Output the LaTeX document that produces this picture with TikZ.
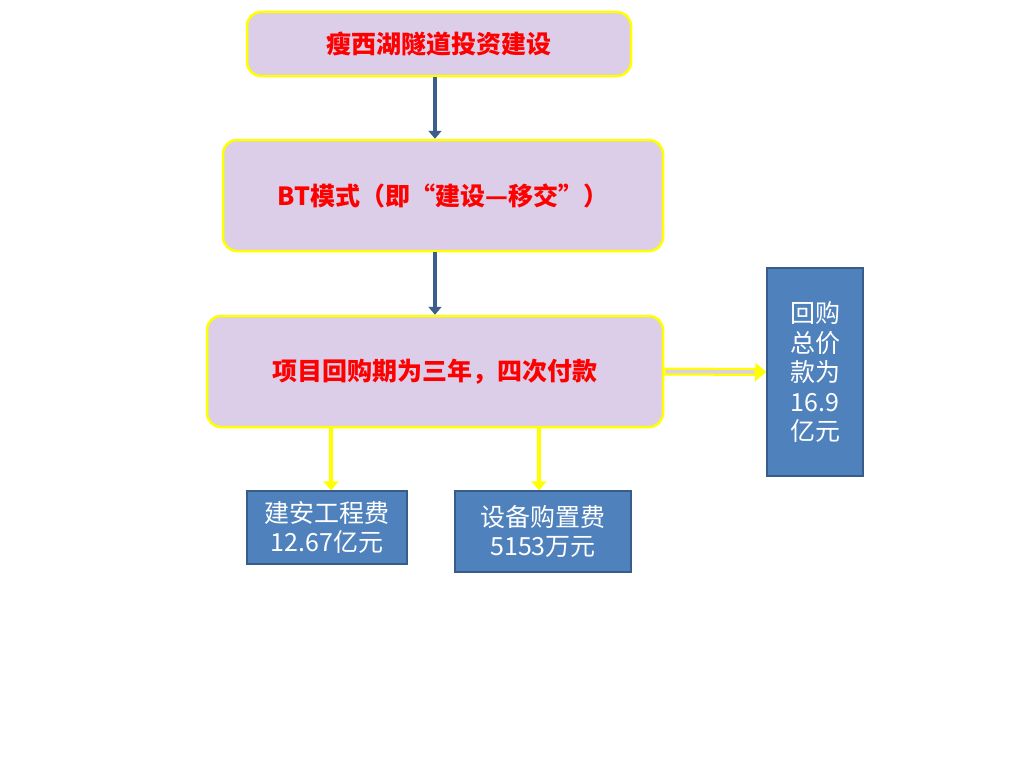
\documentclass[tikz,border=0pt]{standalone}
\usepackage{fontspec}
\setmainfont{Noto Sans CJK SC}
\usetikzlibrary{arrows.meta}
\definecolor{lav}{RGB}{220,206,232}
\definecolor{boxblue}{RGB}{79,129,189}
\definecolor{boxedge}{RGB}{56,93,138}
\definecolor{arrblue}{RGB}{59,94,140}
\definecolor{arryel}{RGB}{255,255,0}
\begin{document}
\begin{tikzpicture}[x=1pt, y=-1pt,
  stepbox/.style={draw=arryel, line width=2.5pt, fill=lav, rounded corners=14pt,
    text=red, font=\fontsize{25}{30}\selectfont\bfseries, inner sep=0pt},
  costbox/.style={draw=boxedge, line width=1.5pt, fill=boxblue, text=white,
    font=\fontsize{25}{29.5}\selectfont, align=center, inner sep=0pt},
  bluearrow/.style={draw=arrblue, line width=4.5pt, -{Triangle[width=13pt,length=8pt]}},
  yelarrow/.style={draw=arryel, line width=4.5pt, -{Triangle[width=15pt,length=9pt]}}]
\useasboundingbox[fill=white] (0,0) rectangle (1024,768);

\node[stepbox, minimum width=384pt, minimum height=64pt] (invest) at (439,44) {瘦西湖隧道投资建设};
\node[stepbox, minimum width=440pt, minimum height=111pt] (bt) at (443,195.5) {BT模式（即“建设—移交”）};
\node[stepbox, minimum width=456pt, minimum height=111pt] (buyback) at (435,371.5) {项目回购期为三年，四次付款};

\node[costbox, minimum width=96pt, minimum height=208pt] (total) at (815,372) {回购\\总价\\款为\\16.9\\亿元};
\node[costbox, minimum width=160pt, minimum height=73pt] (build) at (327,527.5) {建安工程费\\12.67亿元};
\node[costbox, minimum width=176pt, minimum height=81pt] (equip) at (543,531.5) {设备购置费\\5153万元};

% arrows
\draw[bluearrow] (invest.south -| buyback.north) -- (bt.north -| buyback.north);
\draw[bluearrow] (bt.south -| buyback.north) -- (buyback.north);
\draw[yelarrow] ([xshift=4pt]build.north |- buyback.south) -- ([xshift=4pt]build.north);
\draw[yelarrow] ([xshift=-4pt]equip.north |- buyback.south) -- ([xshift=-4pt]equip.north);
\draw[yelarrow, line width=8pt, -{Triangle[width=18pt,length=11pt]}] (buyback.east) -- (total.west);
\draw[draw=lav, line width=3.5pt, shorten <=1.5pt, shorten >=12pt] (buyback.east) -- (total.west);
\end{tikzpicture}
\end{document}
